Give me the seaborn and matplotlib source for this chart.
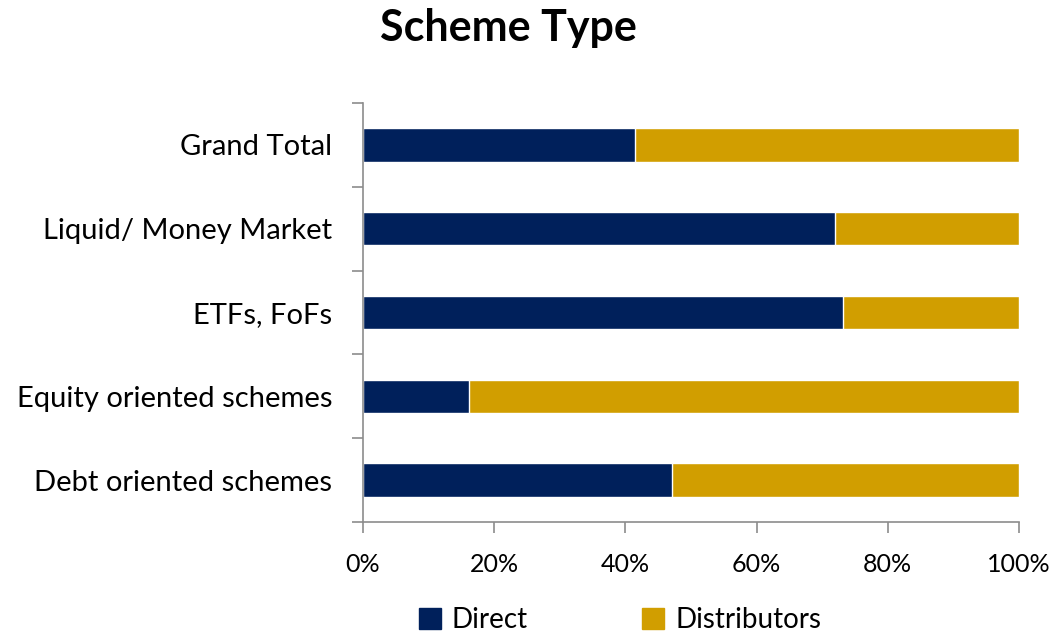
import pandas as pd
import seaborn as sns
import matplotlib.pyplot as plt
from matplotlib.patches import Patch
from matplotlib.ticker import FuncFormatter

# ==== Data ====
categories = ["Grand Total", "Liquid/ Money Market", "ETFs, FoFs",
              "Equity oriented schemes", "Debt oriented schemes"]
direct = [41.5, 72.0, 73.2, 16.2, 47.1]
distributors = [100 - d for d in direct]

df = pd.DataFrame({"category": categories, "Direct": direct,
                   "Distributors": distributors})
df["total"] = df["Direct"] + df["Distributors"]

navy = "#00205B"
gold = "#D19E00"

sns.set_theme(style="white")
plt.rcParams["font.family"] = ["Lato", "DejaVu Sans"]
plt.rcParams["text.color"] = "black"
plt.rcParams["xtick.color"] = "black"
plt.rcParams["ytick.color"] = "black"

fig = plt.figure(figsize=(10.53, 6.33), dpi=100)
ax = fig.add_axes([363 / 1053, 111 / 633, 656 / 1053, 419 / 633])

# stacked: full bar in gold, direct share drawn over it
sns.barplot(data=df, x="total", y="category", color=gold, width=0.4,
            saturation=1, ax=ax, order=categories)
sns.barplot(data=df, x="Direct", y="category", color=navy, width=0.4,
            saturation=1, ax=ax, order=categories)

ax.set_xlim(0, 100)
ax.set_ylim(len(categories) - 0.5, -0.5)
ax.set_xlabel("")
ax.set_ylabel("")

ax.xaxis.set_major_formatter(FuncFormatter(lambda v, _: f"{v:.0f}%"))
ax.set_xticks([0, 20, 40, 60, 80, 100])
ax.set_yticks(range(len(categories)))
ax.set_yticks([i - 0.5 for i in range(len(categories) + 1)], minor=True)
ax.tick_params(axis="y", which="major", length=0, pad=22, labelsize=21)
ax.tick_params(axis="y", which="minor", left=True, length=8, width=1.2,
               color="#8c8c8c", direction="out")
ax.tick_params(axis="x", bottom=True, length=8, width=1.2, color="#8c8c8c",
               direction="out", labelsize=18, pad=14)

for side in ["top", "right"]:
    ax.spines[side].set_visible(False)
for side in ["left", "bottom"]:
    ax.spines[side].set_color("#8c8c8c")
    ax.spines[side].set_linewidth(1.2)

fig.text(508 / 1053, 1 - 28 / 633, "Scheme Type", ha="center", va="center",
         fontsize=31, fontweight="bold")

handles = [Patch(color=navy, label="Direct"),
           Patch(color=gold, label="Distributors")]
fig.legend(handles=handles, loc="center", bbox_to_anchor=(620 / 1053, 1 - 620 / 633),
           ncol=2, frameon=False, fontsize=20, handlelength=0.8, handleheight=0.8,
           columnspacing=4.1, handletextpad=0.4)

fig.savefig("out.png", dpi=100)
